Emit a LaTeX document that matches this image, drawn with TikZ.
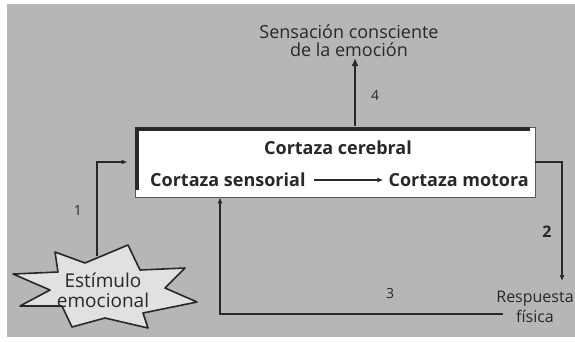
\documentclass[tikz,border=0pt]{standalone}
\usepackage{fontspec}
\setmainfont{Open Sans}
\usetikzlibrary{arrows.meta,calc}
\definecolor{bg}{RGB}{182,182,182}
\definecolor{ink}{RGB}{40,40,40}
\definecolor{starfill}{RGB}{225,225,225}
\tikzset{
  lbl/.style={text=ink, font=\fontsize{18}{18}\selectfont, inner sep=0pt},
  numlbl/.style={text=ink, font=\fontsize{14}{16}\selectfont, inner sep=0pt},
  boxtxt/.style={text=ink, font=\bfseries\fontsize{18}{20}\selectfont, inner sep=0pt},
  conn/.style={draw=ink, line width=1.1pt, -{Latex[length=6pt,width=5pt]}},
}
\begin{document}
\begin{tikzpicture}[x=1pt,y=-1pt]
\useasboundingbox (0,0) rectangle (575,341);
\fill[white] (0,0) rectangle (575,341);
\fill[bg] (7,4) rectangle (575,337);
% box
\node[draw=gray!70!black, line width=0.8pt, fill=white, minimum width=400pt, minimum height=70pt, inner sep=0pt] (box) at (335,162) {};
\draw[ink, line width=4pt] (137,190) -- (137,129) -- (530,129);
\node[boxtxt] (cc) at (338,148) {Cortaza cerebral};
\node[boxtxt, anchor=west] (cs) at (150,180) {Cortaza sensorial};
\node[boxtxt, anchor=east] (cm) at (529,180) {Cortaza motora};
\draw[conn, shorten <=8pt, shorten >=5pt] (cs.east) -- (cm.west);
% top text
\node[lbl, align=center] (sens) at (349,41) {Sensación consciente\\de la emoción};
\node[numlbl] (n4) at (375,95) {4};
\coordinate (b4) at (355,126);
\draw[draw=ink, line width=2pt, -{Latex[length=8pt,width=7pt]}] (b4) -- (355,58);
% star
\draw[draw=ink, fill=starfill, line width=1.6pt, line join=round]
  (55,252) -- (85,263) -- (128,245) -- (140,270) -- (185,268) -- (165,288) -- (197,302)
  -- (143,313) -- (148,328) -- (105,318) -- (72,327) -- (62,306) -- (20,306)
  -- (50,290) -- (13,274) -- (58,272) -- cycle;
\node[lbl, align=center, font=\fontsize{19}{20}\selectfont] (stim) at (103,290) {Estímulo\\emocional};
\coordinate (s1) at (97,256);
\coordinate (k1) at (97,162);
\draw[conn, shorten >=7pt] (s1) -- (k1) -- (box.west |- k1);
\node[numlbl] (n1) at (78,210) {1};
% arrow 2
\node[lbl, align=center, font=\fontsize{16}{20}\selectfont] (resp) at (535,307) {Respuesta\\física};
\coordinate (k2) at (562,162);
\coordinate (e2) at (562,281);
\draw[conn] (box.east |- k2) -- (k2) -- (e2);
\node[numlbl, font=\bfseries\fontsize{16}{16}\selectfont] (n2) at (547,232) {2};
% arrow 3
\coordinate (s3) at (503,314);
\coordinate (k3) at (220,314);
\draw[conn] (s3) -- (k3) -- (box.south -| k3);
\node[numlbl] (n3) at (390,293) {3};
\end{tikzpicture}
\end{document}
